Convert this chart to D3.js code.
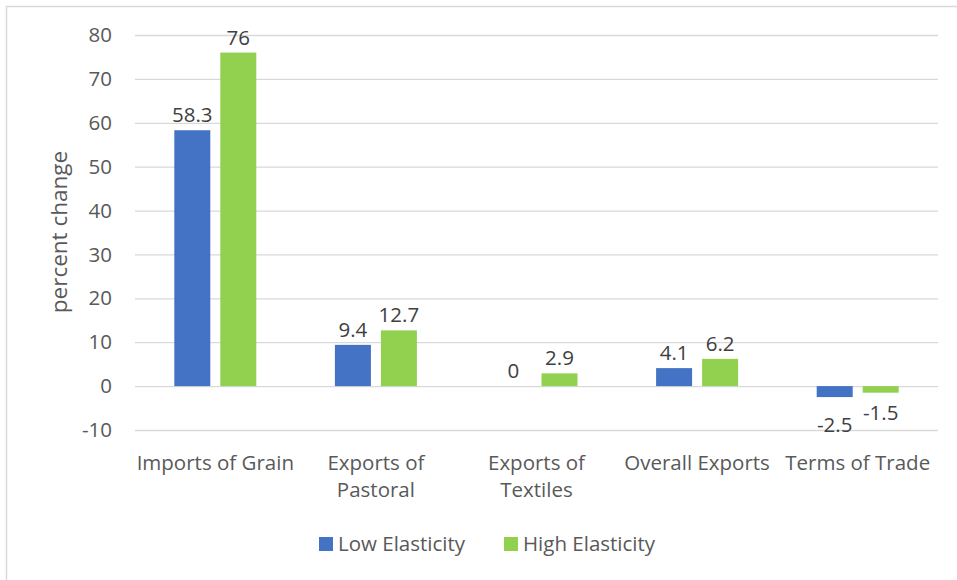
<!DOCTYPE html>
<html>
<head>
<meta charset="utf-8">
<script src="https://cdn.jsdelivr.net/npm/d3@7/dist/d3.min.js"></script>
<style>
  html, body { margin: 0; padding: 0; background: #fff; }
  svg { display: block; font-family: "Open Sans", "Noto Sans", sans-serif; }
</style>
</head>
<body>
<svg id="chart" width="957" height="580"></svg>
<script>
// Category labels (lines split where the axis wraps them)
const categories = ["Imports of Grain", "Exports of Pastoral", "Exports of Textiles", "Overall Exports", "Terms of Trade"];
const categoryLines = [["Imports of Grain"], ["Exports of", "Pastoral"], ["Exports of", "Textiles"], ["Overall Exports"], ["Terms of Trade"]];
const seriesNames = ["Low Elasticity", "High Elasticity"];
const lowElasticity = [58.3, 9.4, 0, 4.1, -2.5];
const highElasticity = [76, 12.7, 2.9, 6.2, -1.5];
const yTicks = [-10, 0, 10, 20, 30, 40, 50, 60, 70, 80];
const colors = ["#4472C4", "#92D050"];

const FS = "20.5px";
const svg = d3.select("#chart");

// outer frame
svg.append("rect")
  .attr("x", 6.5).attr("y", 6.5)
  .attr("width", 960).attr("height", 580)
  .attr("fill", "none").attr("stroke", "#d9d9d9").attr("stroke-width", 1.5);

const plot = { left: 135, right: 938, top: 35, bottom: 430 };

const y = d3.scaleLinear().domain([-10, 80]).range([plot.bottom, plot.top]);
const x0 = d3.scaleBand().domain(categories).range([plot.left, plot.right]);
const bw = x0.bandwidth();
// two bars of 36px with a 10px gap, centred in each category
const x1 = d3.scaleBand().domain(seriesNames).range([bw / 2 - 41, bw / 2 + 41]).paddingInner(10 / 46).paddingOuter(0);

// gridlines and tick labels (plain hyphen for negatives)
const yAxis = d3.axisLeft(y).tickValues(yTicks).tickFormat(d => String(d))
  .tickSize(-(plot.right - plot.left)).tickPadding(23);
const gy = svg.append("g").attr("transform", `translate(${plot.left},0)`).call(yAxis);
gy.select(".domain").remove();
gy.selectAll(".tick line").attr("stroke", "#d9d9d9").attr("stroke-width", 1.3);
gy.selectAll(".tick text")
  .attr("fill", "#595959").style("font-size", FS).style("font-family", "'Open Sans', sans-serif");

// bars
const data = categories.map((c, i) => ({ cat: c, values: [lowElasticity[i], highElasticity[i]] }));
const groups = svg.selectAll("g.group").data(data).join("g")
  .attr("class", "group")
  .attr("transform", d => `translate(${x0(d.cat)},0)`);

const items = d => d.values.map((v, j) => ({ v, s: seriesNames[j], j, neighbour: d.values }));

groups.selectAll("rect").data(items)
  .join("rect")
  .attr("x", d => x1(d.s))
  .attr("width", x1.bandwidth())
  .attr("y", d => y(Math.max(0, d.v)))
  .attr("height", d => Math.abs(y(d.v) - y(0)))
  .attr("fill", d => colors[d.j]);

// value labels; when both values are negative the first label drops lower to clear its neighbour
groups.selectAll("text.val").data(items)
  .join("text")
  .attr("class", "val")
  .attr("x", d => x1(d.s) + x1.bandwidth() / 2)
  .attr("y", d => {
    if (d.v >= 0) return y(d.v) - 8;
    const clash = d.j === 0 && d.neighbour[1] < 0;
    return y(d.v) + (clash ? 35 : 27);
  })
  .attr("text-anchor", "middle")
  .attr("fill", "#404040")
  .style("font-size", FS)
  .text(d => d.v);

// category labels
const catG = svg.append("g");
categories.forEach((c, i) => {
  const cx = x0(c) + bw / 2;
  const t = catG.append("text")
    .attr("x", cx)
    .attr("y", 470)
    .attr("text-anchor", "middle")
    .attr("fill", "#595959")
    .style("font-size", FS);
  categoryLines[i].forEach((line, k) => {
    t.append("tspan").attr("x", cx).attr("dy", k === 0 ? 0 : 27).text(line);
  });
});

// y-axis title
svg.append("text")
  .attr("transform", `translate(67,232) rotate(-90)`)
  .attr("text-anchor", "middle")
  .attr("fill", "#595959")
  .style("font-size", "22.5px")
  .text("percent change");

// legend
const legendItems = [{ name: seriesNames[0], x: 319 }, { name: seriesNames[1], x: 504 }];
const lg = svg.append("g");
legendItems.forEach((d, i) => {
  lg.append("rect").attr("x", d.x).attr("y", 537).attr("width", 14).attr("height", 14).attr("fill", colors[i]);
  lg.append("text").attr("x", d.x + 19).attr("y", 551)
    .attr("fill", "#595959").style("font-size", FS).text(d.name);
});
</script>
</body>
</html>
